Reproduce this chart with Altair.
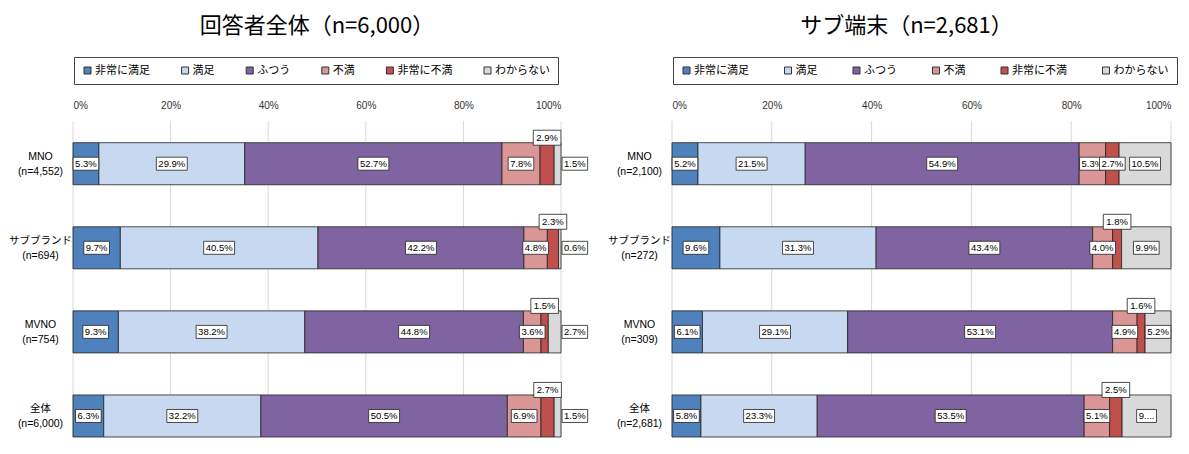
import altair as alt
import pandas as pd

# ---------------- data ----------------
categories = ["非常に満足", "満足", "ふつう", "不満", "非常に不満", "わからない"]
colors = ["#4F81BD", "#C6D9F1", "#8064A2", "#D99694", "#C0504D", "#D9D9D9"]

left_title = "回答者全体（n=6,000）"
left_groups = ["MNO", "サブブランド", "MVNO", "全体"]
left_n = ["(n=4,552)", "(n=694)", "(n=754)", "(n=6,000)"]
left_mno = [5.3, 29.9, 52.7, 7.8, 2.9, 1.5]
left_sub = [9.7, 40.5, 42.2, 4.8, 2.3, 0.6]
left_mvno = [9.3, 38.2, 44.8, 3.6, 1.5, 2.7]
left_all = [6.3, 32.2, 50.5, 6.9, 2.7, 1.5]

right_title = "サブ端末（n=2,681）"
right_groups = ["MNO", "サブブランド", "MVNO", "全体"]
right_n = ["(n=2,100)", "(n=272)", "(n=309)", "(n=2,681)"]
right_mno = [5.2, 21.5, 54.9, 5.3, 2.7, 10.5]
right_sub = [9.6, 31.3, 43.4, 4.0, 1.8, 9.9]
right_mvno = [6.1, 29.1, 53.1, 4.9, 1.6, 5.2]
right_all = [5.8, 23.3, 53.5, 5.1, 2.5, 9.8]

# label text exceptions (truncated label in the original)
label_override = {("right", "全体", "わからない"): "9...."}

# label placement: default per category, with exceptions
default_place = {
    "left": ["center", "center", "center", "center", "above", "right"],
    "right": ["center", "center", "center", "center", "above", "center"],
}
place_override = {("right", "MNO", "非常に不満"): "center"}

tick_values = [0, 20, 40, 60, 80, 100]


def build(panel, groups, ns, rows):
    recs = []
    for g, n, vals in zip(groups, ns, rows):
        ylab = g + "\n" + n
        for i, (c, v) in enumerate(zip(categories, vals)):
            lab = label_override.get((panel, g, c), f"{v:.1f}%")
            place = place_override.get((panel, g, c), default_place[panel][i])
            recs.append(dict(ylab=ylab, cat=c, order=i, value=v, label=lab,
                             place=place, stage=1 if i < 4 else 2))
    return pd.DataFrame(recs), [g + "\n" + n for g, n in zip(groups, ns)]


# ---------------- style ----------------
LABEL_FONT = "Liberation Sans"
LABEL_FS = 9.5
AX_FONT = "Liberation Sans, Noto Sans CJK JP"
JP_FONT = "Noto Sans CJK JP"
H = 316
BAND_HALF = 21.0
box_hh = {"center": 6.5, "above": 7.5, "right": 6.5}
box_pad = {"center": 2, "above": 3, "right": 2}


def panel(df, ylabs, width, title, legend_cp, title_dx=0):
    xscale = alt.Scale(domain=[0, 100], clamp=True, nice=False)
    yscale = alt.Scale(domain=ylabs, paddingInner=0.5, paddingOuter=0.129, align=1)
    xaxis = alt.Axis(orient="top", values=tick_values, labelExpr="datum.value + '%'",
                     grid=False, domain=False, ticks=False,
                     labelFontSize=10, labelFont=LABEL_FONT, labelColor="#333333",
                     labelPadding=11, title=None)
    yaxis = alt.Axis(labelExpr="split(datum.label, '\\n')", labelAlign="center",
                     labelBaseline="middle", labelPadding=33, labelLineHeight=15,
                     labelOffset=-7, labelFontSize=10.5, labelFont=AX_FONT,
                     labelColor="#000000", domain=False, ticks=False, grid=False,
                     title=None, labelLimit=200)

    # vertical gridlines at the tick values
    grid = alt.Chart(pd.DataFrame({"t": tick_values})).mark_rule(
        color="#D9D9D9", strokeWidth=1
    ).encode(x=alt.X("t:Q", scale=xscale, axis=xaxis))

    base = alt.Chart(df).transform_stack(
        stack="value", as_=["x0", "x1"], groupby=["ylab"], sort=[alt.SortField("order")]
    ).transform_calculate(
        mid="(datum.x0 + min(datum.x1, 100)) / 2",
        xend="min(datum.x1, 100)",
        ndig="length(replace(datum.label, regexp('[^0-9]', 'g'), ''))",
        ndot="length(replace(datum.label, regexp('[^.]', 'g'), ''))",
        npct="length(replace(datum.label, regexp('[^%]', 'g'), ''))",
    ).transform_calculate(
        tw=f"{LABEL_FS} * (0.556 * datum.ndig + 0.278 * datum.ndot + 0.889 * datum.npct)"
    )

    bars = base.mark_bar(stroke="#222222", strokeWidth=0.8).encode(
        x=alt.X("x0:Q", scale=xscale, axis=xaxis),
        x2="xend:Q",
        y=alt.Y("ylab:N", sort=ylabs, scale=yscale, axis=yaxis),
        color=alt.Color("cat:N", scale=alt.Scale(domain=categories, range=colors),
                        legend=alt.Legend(orient="none", legendX=1, legendY=-64,
                                          direction="horizontal", columns=6, title=None,
                                          symbolType="square", symbolSize=49,
                                          symbolStrokeColor="#333333", symbolStrokeWidth=1,
                                          labelFont=JP_FONT, labelFontSize=11,
                                          labelColor="#000000", labelOffset=2,
                                          columnPadding=legend_cp, padding=8,
                                          strokeColor="#444444", fillColor="white")),
    )

    layers = [grid, bars]
    for stage, place in [(1, "center"), (2, "center"), (2, "above"), (2, "right")]:
        hh = box_hh[place]
        pad = box_pad[place]
        yoff = -(BAND_HALF + 5) if place == "above" else 0
        if place == "right":
            path = (f"'M1,{-hh}H' + (1 + datum.tw + {2 * pad}) + 'V{hh}H1Z'")
            xfield = "xend"
        else:
            path = (f"'M' + (-(datum.tw / 2 + {pad})) + ',{-hh}H' + (datum.tw / 2 + {pad})"
                    f" + 'V{hh}H' + (-(datum.tw / 2 + {pad})) + 'Z'")
            xfield = "mid"
        sel = base.transform_filter(
            f"datum.stage == {stage} && datum.place == '{place}'"
        ).transform_calculate(path=path)
        box = sel.mark_point(size=4, filled=True, fill="white", stroke="#222222",
                             strokeWidth=0.8, opacity=1, yOffset=yoff).encode(
            x=alt.X(f"{xfield}:Q", scale=xscale, axis=xaxis),
            y=alt.Y("ylab:N", sort=ylabs, scale=yscale, axis=yaxis),
            shape=alt.Shape("path:N", scale=None),
        )
        txt = sel.mark_text(font=LABEL_FONT, fontSize=LABEL_FS, color="#000000",
                            align="left" if place == "right" else "center",
                            dx=1 + pad if place == "right" else 0,
                            baseline="middle", yOffset=yoff).encode(
            x=alt.X(f"{xfield}:Q", scale=xscale, axis=xaxis),
            y=alt.Y("ylab:N", sort=ylabs, scale=yscale, axis=yaxis),
            text="label:N",
        )
        layers += [box, txt]

    return alt.layer(*layers).properties(
        width=width, height=H,
        title=alt.TitleParams(title, font=JP_FONT, fontSize=22, fontWeight="normal",
                              color="#000000", anchor="middle", frame="group",
                              offset=19, dx=title_dx),
    )


df_l, ylabs_l = build("left", left_groups, left_n, [left_mno, left_sub, left_mvno, left_all])
df_r, ylabs_r = build("right", right_groups, right_n, [right_mno, right_sub, right_mvno, right_all])

left = panel(df_l, ylabs_l, 488, left_title, 29.6)
right = panel(df_r, ylabs_r, 499, right_title, 33.5, title_dx=-15)

chart = alt.hconcat(left, right, spacing=17).resolve_scale(
    color="independent", x="independent", y="independent"
).resolve_legend(color="independent").configure_view(stroke=None).properties(
    padding={"left": 0, "top": 6, "right": 0, "bottom": 0}
)

chart.save("out.html", embed_options={"renderer": "svg", "actions": False})
